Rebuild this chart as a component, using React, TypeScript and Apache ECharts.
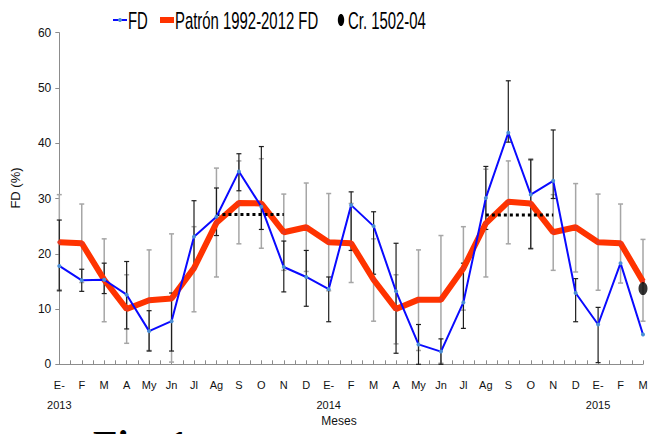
import React, { useEffect, useRef } from "react";
import * as echarts from "echarts";

const categories = ["E-", "F", "M", "A", "My", "Jn", "Jl", "Ag", "S", "O", "N", "D",
  "E-", "F", "M", "A", "My", "Jn", "Jl", "Ag", "S", "O", "N", "D",
  "E-", "F", "M"];
const yearLabels = ["2013", "", "", "", "", "", "", "", "", "", "", "",
  "2014", "", "", "", "", "", "", "", "", "", "", "",
  "2015", "", ""];

const fdValues = [17.8, 15.2, 15.3, 12.6, 6.0, 7.8, 23.1, 26.7, 34.9, 28.5, 17.6, 15.8,
  13.6, 28.8, 25.0, 13.2, 3.6, 2.3, 11.2, 30.1, 41.9, 30.7, 33.2, 12.9,
  7.2, 18.3, 5.4];
const patronValues = [22.1, 21.9, 15.3, 10.0, 11.6, 11.9, 17.4, 25.6, 29.2, 29.1, 23.9, 24.8,
  22.1, 21.9, 15.3, 10.0, 11.7, 11.7, 17.4, 25.5, 29.4, 29.1, 23.9, 24.8,
  22.1, 21.9, 15.0];
const crIndex = 26;
const crValue = 13.7;

const fdErrLow = [13.3, 13.2, 12.8, 6.4, 2.4, 2.4, 17.5, 23.3, 31.4, 24.4, 13.1, 10.5,
  7.7, 20.6, 16.3, 2.0, 0, 0, 6.5, 24.4, 40.2, 20.9, 30.0, 7.7,
  0.3, null, null];
const fdErrHigh = [26.1, 17.2, 18.3, 18.6, 9.7, 12.9, 29.6, 31.9, 38.1, 39.4, 22.3, 20.6,
  15.8, 31.2, 27.6, 21.9, 7.2, 4.6, 18.3, 35.8, 51.3, 37.0, 42.4, 15.5,
  10.3, null, null];
const patronErrLow = [13.5, 14.8, 7.7, 3.8, 2.5, 0.4, 9.5, 15.8, 21.8, 21.0, 17.0, 16.8,
  13.3, 14.8, 7.8, 3.7, 2.5, 0.2, 9.8, 15.8, 21.8, 21.0, 17.0, 16.7,
  13.4, 14.7, 7.8];
const patronErrHigh = [30.7, 29.0, 22.7, 16.2, 20.7, 23.6, 24.9, 35.5, 36.8, 37.2, 30.8, 32.8,
  30.9, 29.1, 22.7, 16.2, 20.7, 23.3, 24.9, 35.3, 36.8, 37.2, 30.7, 32.7,
  30.8, 29.0, 22.6];

// dotted reference segments: [startIndex, endIndex, value]
const dottedSegments = [
  [7, 10, 27.1],
  [19, 22, 27.0],
];

const legendNames = ["FD", "Patrón 1992-2012 FD", "Cr. 1502-04"];

const SANS = "'Liberation Sans', Arial, sans-serif";

function errorBarSeries(name: string, low: (number | null)[], high: (number | null)[], color: string, width: number) {
  const data: number[][] = [];
  low.forEach((lo, i) => {
    const hi = high[i];
    if (lo != null && hi != null) data.push([i, lo, hi]);
  });
  return {
    type: "custom",
    name,
    z: 1,
    silent: true,
    data,
    encode: { x: 0, y: [1, 2] },
    renderItem: (_params: any, api: any) => {
      const x = api.value(0);
      const p1 = api.coord([x, api.value(1)]);
      const p2 = api.coord([x, api.value(2)]);
      const w = 2.5;
      const style = { stroke: color, lineWidth: width };
      return {
        type: "group",
        children: [
          { type: "line", shape: { x1: p1[0], y1: p1[1], x2: p2[0], y2: p2[1] }, style },
          { type: "line", shape: { x1: p1[0] - w, y1: p1[1], x2: p1[0] + w, y2: p1[1] }, style },
          { type: "line", shape: { x1: p2[0] - w, y1: p2[1], x2: p2[0] + w, y2: p2[1] }, style },
        ],
      };
    },
  };
}

function legendText(text: string, x: number) {
  return {
    type: "text",
    x,
    y: 21,
    scaleX: 0.745,
    scaleY: 1.22,
    style: {
      text,
      fontFamily: SANS,
      fontSize: 20,
      fill: "#000",
      align: "left",
      verticalAlign: "middle",
    },
  };
}

export default function App() {
  const ref = useRef<HTMLDivElement>(null);
  useEffect(() => {
    if (!ref.current) return;
    const chart = echarts.init(ref.current, undefined, { renderer: "svg" });
    const dottedSeries = dottedSegments.map((s, k) => ({
      type: "line",
      name: "ref" + k,
      z: 4,
      silent: true,
      symbol: "none",
      data: [[s[0], s[2]], [s[1], s[2]]],
      lineStyle: { color: "#000", width: 3, type: [3, 3], cap: "butt" },
    }));
    chart.setOption({
      animation: false,
      backgroundColor: "#fff",
      grid: { left: 59.3, right: 5, top: 32.7, bottom: 69.7, containLabel: false, outerBoundsMode: "none" },
      xAxis: {
        type: "value",
        min: 0,
        max: 26,
        interval: 1,
        axisLine: { show: true, lineStyle: { color: "#8c8c8c", width: 1 } },
        axisTick: { show: true, inside: true, length: 4, lineStyle: { color: "#8c8c8c" } },
        minorTick: { show: true, splitNumber: 2, length: 4, lineStyle: { color: "#8c8c8c" } },
        splitLine: { show: false },
        minorSplitLine: { show: false },
        axisLabel: {
          margin: 11,
          fontFamily: SANS,
          fontSize: 11,
          color: "#111",
          lineHeight: 20,
          formatter: (v: number) => {
            const i = Math.round(v);
            const c = categories[i] ?? "";
            return yearLabels[i] ? c + "\n" + yearLabels[i] : c;
          },
        },
      },
      yAxis: {
        type: "value",
        min: 0,
        max: 60,
        interval: 10,
        axisLine: { show: true, lineStyle: { color: "#8c8c8c", width: 1 } },
        axisTick: { show: true, inside: false, length: 4, lineStyle: { color: "#8c8c8c" } },
        splitLine: { show: false },
        axisLabel: { margin: 8, fontFamily: SANS, fontSize: 12, color: "#111" },
      },
      graphic: [
        // legend
        { type: "line", shape: { x1: 113, y1: 20, x2: 127, y2: 20 }, style: { stroke: "#0a0aff", lineWidth: 2 } },
        { type: "circle", shape: { cx: 120, cy: 20, r: 2 }, style: { fill: "#4a8fd6" } },
        legendText(legendNames[0], 128),
        { type: "line", shape: { x1: 160, y1: 20, x2: 174, y2: 20 }, style: { stroke: "#ff3300", lineWidth: 6 } },
        legendText(legendNames[1], 175),
        { type: "ellipse", shape: { cx: 341, cy: 20, rx: 3.2, ry: 6 }, style: { fill: "#000" } },
        legendText(legendNames[2], 348),
        {
          type: "text",
          x: 15,
          y: 188,
          rotation: Math.PI / 2,
          style: {
            text: "FD (%)",
            fontFamily: SANS,
            fontSize: 13,
            fill: "#111",
            align: "center",
            verticalAlign: "middle",
          },
        },
        {
          type: "text",
          x: 339,
          y: 421,
          style: {
            text: "Meses",
            fontFamily: SANS,
            fontSize: 12,
            fill: "#111",
            align: "center",
            verticalAlign: "middle",
          },
        },
        {
          type: "text",
          x: 93,
          y: 424,
          style: {
            text: "Fig. 1",
            fontFamily: "'Liberation Serif', serif",
            fontWeight: "bold",
            fontSize: 40,
            fill: "#000",
            align: "left",
            verticalAlign: "top",
          },
        },
      ],
      series: [
        errorBarSeries("errPatron", patronErrLow, patronErrHigh, "#a6a6a6", 1.5),
        errorBarSeries("errFD", fdErrLow, fdErrHigh, "#1e1e1e", 1.2),
        {
          type: "line",
          name: legendNames[1],
          z: 3,
          data: patronValues.map((v, i) => [i, v]),
          symbol: "circle",
          symbolSize: 4,
          lineStyle: { color: "#ff3300", width: 6 },
          itemStyle: { color: "#e8361e" },
        },
        {
          type: "line",
          name: legendNames[0],
          z: 5,
          data: fdValues.map((v, i) => [i, v]),
          symbol: "circle",
          symbolSize: 4,
          lineStyle: { color: "#0a0aff", width: 2 },
          itemStyle: { color: "#4a8fd6" },
        },
        ...dottedSeries,
        {
          type: "scatter",
          name: legendNames[2],
          z: 6,
          data: [[crIndex, crValue]],
          symbol: "circle",
          symbolSize: [9, 13],
          itemStyle: { color: "#000" },
        },
      ],
    });
    return () => chart.dispose();
  }, []);
  return <div ref={ref} style={{ position: "fixed", left: 0, top: 0, width: 648, height: 434 }} />;
}
